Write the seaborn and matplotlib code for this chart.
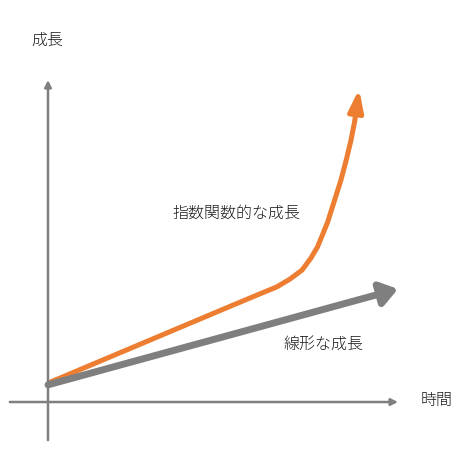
import numpy as np
import pandas as pd
import seaborn as sns
import matplotlib.pyplot as plt

sns.set_style('white')
plt.rcParams['font.family'] = ['Noto Sans CJK JP', 'DejaVu Sans']

# exponential growth curve (time, growth)
exp_time = [0.0, 4.34, 5.29, 5.91, 6.54, 6.91, 7.26, 7.51, 7.70, 7.84,
            7.99, 8.10, 8.19, 8.37, 8.52, 8.66, 8.77, 8.89]
exp_growth = [0.54, 2.37, 2.77, 3.03, 3.29, 3.51, 3.77, 4.11, 4.43, 4.77,
              5.14, 5.49, 5.77, 6.34, 6.91, 7.49, 8.06, 8.94]

# linear growth (start, end)
lin_time = [0.0, 10.0]
lin_growth = [0.49, 3.23]

# axis extents
x_axis = [-1.09, 10.0]
y_axis = [-1.09, 9.2]

labels = {
    'y': '成長',
    'x': '時間',
    'exp': '指数関数的な成長',
    'lin': '線形な成長',
}

orange = '#ED7D31'
gray = '#7F7F7F'

fig = plt.figure(figsize=(4.62, 4.62), dpi=100)
ax = fig.add_axes([0, 0, 1, 1])
ax.set_xlim(-1.371, 11.829)
ax.set_ylim(-1.714, 11.486)
ax.axis('off')

# axes arrows
ax.annotate('', xy=(x_axis[1], 0), xytext=(x_axis[0], 0),
            arrowprops=dict(arrowstyle='-|>', color=gray, lw=1.8,
                            mutation_scale=10, shrinkA=0, shrinkB=0))
ax.annotate('', xy=(0, y_axis[1]), xytext=(0, y_axis[0]),
            arrowprops=dict(arrowstyle='-|>', color=gray, lw=1.8,
                            mutation_scale=10, shrinkA=0, shrinkB=0))

# linear growth arrow
ax.annotate('', xy=(lin_time[1], lin_growth[1]), xytext=(lin_time[0], lin_growth[0]),
            arrowprops=dict(arrowstyle='-|>,head_length=0.5,head_width=0.35', color=gray, lw=5,
                            mutation_scale=20, shrinkA=0, shrinkB=0))

# exponential curve
df = pd.DataFrame({'time': exp_time, 'growth': exp_growth})
sns.lineplot(data=df.iloc[:-1], x='time', y='growth', color=orange, lw=3.6,
             sort=False, ax=ax, solid_capstyle='butt', solid_joinstyle='round')
ax.annotate('', xy=(exp_time[-1], exp_growth[-1]), xytext=(exp_time[-2], exp_growth[-2]),
            arrowprops=dict(arrowstyle='-|>,head_length=0.65,head_width=0.22', color=orange, lw=3.6,
                            mutation_scale=20, shrinkA=0, shrinkB=0))
ax.set_xlabel('')
ax.set_ylabel('')

fs = 11.5
tc = '#1a1a1a'
ax.text(-0.03, 10.34, labels['y'], ha='center', va='center', fontsize=fs, color=tc, fontweight='light')
ax.text(11.09, 0.03, labels['x'], ha='center', va='center', fontsize=fs, color=tc, fontweight='light')
ax.text(5.37, 5.4, labels['exp'], ha='center', va='center', fontsize=fs, color=tc, fontweight='light')
ax.text(7.86, 1.66, labels['lin'], ha='center', va='center', fontsize=fs, color=tc, fontweight='light')

fig.savefig('out.png', dpi=100)
